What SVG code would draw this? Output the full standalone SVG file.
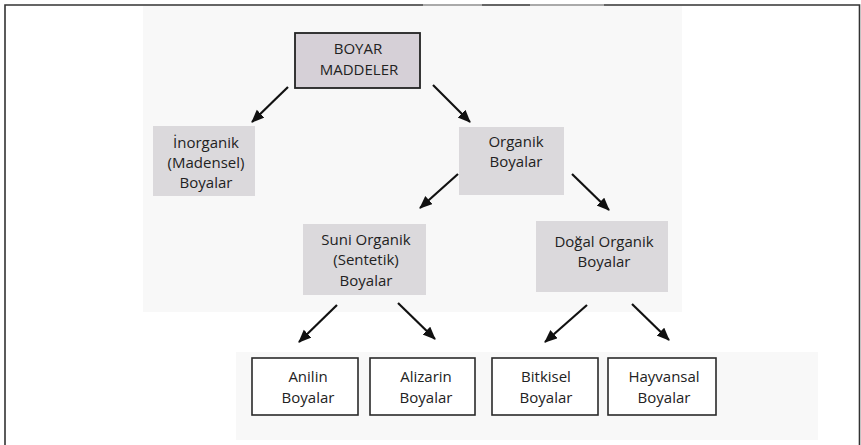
<svg xmlns="http://www.w3.org/2000/svg" width="861" height="445" viewBox="0 0 861 445">
<defs>
<style>
.bg{fill:#f8f8f8}
.frame{fill:none;stroke:#333;stroke-width:1.6}
.gbox{fill:#dbd9dc}
.top{fill:#d6d0d7;stroke:#222;stroke-width:1.8}
.wbox{fill:#fff;stroke:#2a2a2a;stroke-width:1.6}
text{font-family:"Open Sans","DejaVu Sans",sans-serif;font-size:15px;fill:#222;text-anchor:middle}
.conn line{stroke:#111;stroke-width:2.2}
</style>
<marker id="ah" markerUnits="userSpaceOnUse" markerWidth="14" markerHeight="12" refX="12" refY="5.5" orient="auto">
<path d="M0,0 L13,5.5 L0,11 z" fill="#111"/>
</marker>
</defs>
<rect width="861" height="445" fill="#fff"/>
<rect class="bg" x="143" y="6" width="539" height="306"/>
<rect class="bg" x="236" y="352" width="582" height="88"/>
<path class="frame" d="M5,445 V5 H859.5 V445"/>
<line x1="423" y1="5" x2="482" y2="5" stroke="#aaa" stroke-width="1.8"/>
<line x1="530" y1="5" x2="604" y2="5" stroke="#aaa" stroke-width="1.8"/>
<g id="boyar-maddeler">
<rect class="top" x="295" y="33" width="125" height="55"/>
<text x="358" y="54">BOYAR</text>
<text x="359" y="75">MADDELER</text>
</g>
<g id="inorganik">
<rect class="gbox" x="153" y="126" width="102" height="70"/>
<text x="206" y="148">İnorganik</text>
<text x="206" y="168">(Madensel)</text>
<text x="206" y="188">Boyalar</text>
</g>
<g id="organik">
<rect class="gbox" x="459" y="127" width="105" height="68"/>
<text x="516" y="147">Organik</text>
<text x="516" y="167">Boyalar</text>
</g>
<g id="suni-organik">
<rect class="gbox" x="303" y="224" width="123" height="71"/>
<text x="366" y="245">Suni Organik</text>
<text x="366" y="265">(Sentetik)</text>
<text x="366" y="286">Boyalar</text>
</g>
<g id="dogal-organik">
<rect class="gbox" x="536" y="221" width="132" height="71"/>
<text x="604" y="247">Doğal Organik</text>
<text x="604" y="267">Boyalar</text>
</g>
<g id="anilin">
<rect class="wbox" x="252" y="358" width="106" height="57"/>
<text x="308" y="382">Anilin</text>
<text x="308" y="403">Boyalar</text>
</g>
<g id="alizarin">
<rect class="wbox" x="370" y="358" width="105" height="57"/>
<text x="426" y="382">Alizarin</text>
<text x="426" y="403">Boyalar</text>
</g>
<g id="bitkisel">
<rect class="wbox" x="492" y="358" width="106" height="57"/>
<text x="546" y="382">Bitkisel</text>
<text x="546" y="403">Boyalar</text>
</g>
<g id="hayvansal">
<rect class="wbox" x="608" y="358" width="108" height="57"/>
<text x="664" y="382">Hayvansal</text>
<text x="664" y="403">Boyalar</text>
</g>
<g id="connectors" class="conn">
<line x1="288" y1="87" x2="252" y2="122" marker-end="url(#ah)"/>
<line x1="433" y1="85" x2="470" y2="122" marker-end="url(#ah)"/>
<line x1="458" y1="174" x2="420" y2="208" marker-end="url(#ah)"/>
<line x1="572" y1="174" x2="609" y2="210" marker-end="url(#ah)"/>
<line x1="337" y1="305" x2="299" y2="342" marker-end="url(#ah)"/>
<line x1="398" y1="303" x2="435" y2="339" marker-end="url(#ah)"/>
<line x1="587" y1="305" x2="545" y2="342" marker-end="url(#ah)"/>
<line x1="632" y1="304" x2="669" y2="340" marker-end="url(#ah)"/>
</g>
</svg>
